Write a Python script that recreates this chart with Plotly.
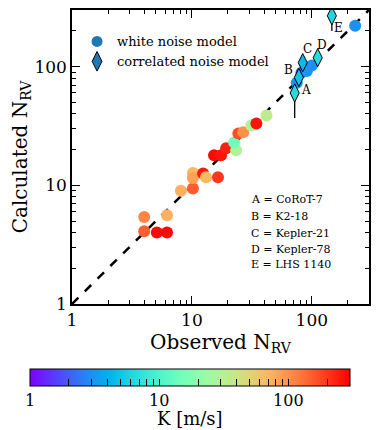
import numpy as np
import plotly.graph_objects as go

# white noise model: observed N_RV, calculated N_RV, K [m/s]
obs_white = [4.0, 4.0, 5.1, 6.2, 6.2, 8.1, 10.2, 10.2, 10.2, 12.4, 13.1, 16.5,
             15.3, 17.5, 19.3, 23.4, 22.5, 24.4, 26.8, 31.3, 34.5, 41.9,
             75, 82, 91, 100, 230]
calc_white = [5.4, 4.1, 4.0, 4.0, 5.6, 9.0, 9.4, 12.7, 11.5, 12.6, 11.7, 11.7,
              17.9, 17.9, 20.5, 19.7, 23.0, 27.3, 28.0, 31.9, 33.2, 38.7,
              73, 89, 92, 102, 221]
k_white = [110, 150, 280, 280, 75, 75, 150, 70, 85, 250, 70, 200,
           280, 260, 240, 30, 15, 170, 100, 30, 260, 35,
           3.0, 1.6, 3.2, 3.0, 3.0]

# correlated noise model
labels_corr = ["A", "B", "C", "D", "E"]
obs_corr = [72, 78, 84, 112, 147]
calc_corr = [60, 81, 108, 119, 268]
k_corr = [6.5, 5.0, 4.5, 6.5, 6.0]
err_up = [6, 5, 6, 6, 40]
err_down = [23, 5, 6, 6, 68]

star_names = ["A = CoRoT-7", "B = K2-18", "C = Kepler-21", "D = Kepler-78", "E = LHS 1140"]

# label offsets (px) for the letters next to the diamonds
lab_dx = [11, -10, 5, 4, 7]
lab_dy = [3, 7, 14, 13, -12]

kmax = 300


def rainbow(t):
    r = min(1, abs(2 * t - 0.5))
    g = np.sin(np.pi * t)
    b = np.cos(np.pi * t / 2)
    return "rgb(%d,%d,%d)" % (r * 255, g * 255, b * 255)


cscale = [[t, rainbow(t)] for t in np.linspace(0, 1, 21)]
cmax = np.log10(kmax)

minor_k = [2, 3, 4, 5, 6, 7, 8, 9, 20, 30, 40, 50, 60, 70, 80, 90, 200]
cb_vals = [0, 1, 2] + list(np.log10(minor_k))
cb_text = ["1", "10", "100"] + [""] * len(minor_k)

font = "DejaVu Serif"

fig = go.Figure()

# 1:1 line
fig.add_trace(go.Scatter(x=[1, kmax], y=[1, kmax], mode="lines",
                         line=dict(color="black", width=2.5, dash="dash"),
                         showlegend=False, hoverinfo="skip"))

fig.add_trace(go.Scatter(
    x=obs_white, y=calc_white, mode="markers", showlegend=False,
    marker=dict(size=12, color=np.log10(k_white), colorscale=cscale,
                cmin=0, cmax=cmax, showscale=True,
                colorbar=dict(orientation="h", x=-0.1414, xanchor="left",
                              y=-0.2195, yanchor="top", lenmode="pixels", len=320,
                              thickness=17, xpad=0, ypad=0,
                              outlinecolor="black", outlinewidth=1,
                              tickvals=cb_vals, ticktext=cb_text, tickangle=0,
                              ticks="inside", ticklen=7, tickcolor="black",
                              tickfont=dict(family=font, size=16, color="black")))))

fig.add_trace(go.Scatter(
    x=obs_corr, y=calc_corr, mode="markers", showlegend=False,
    error_y=dict(type="data", array=err_up, arrayminus=err_down,
                 color="black", thickness=1.3, width=0),
    marker=dict(symbol="diamond-tall", size=13, color=np.log10(k_corr),
                colorscale=cscale, cmin=0, cmax=cmax,
                line=dict(color="black", width=1))))

# legend entries
fig.add_trace(go.Scatter(x=[None], y=[None], mode="markers", name="white noise model",
                         marker=dict(size=11, color="#1f77b4")))
fig.add_trace(go.Scatter(x=[None], y=[None], mode="markers", name="correlated noise model",
                         marker=dict(symbol="diamond-tall", size=14, color="#1f77b4",
                                     line=dict(color="black", width=1))))

for lab, xv, yv, dx, dy in zip(labels_corr, obs_corr, calc_corr, lab_dx, lab_dy):
    fig.add_annotation(x=np.log10(xv), y=np.log10(yv), text=lab, showarrow=False,
                       xshift=dx, yshift=dy,
                       font=dict(family=font, size=12, color="black"))

name_y = [0.354, 0.299, 0.241, 0.187, 0.133]
for txt, yp in zip(star_names, name_y):
    fig.add_annotation(x=0.596, y=yp, xref="paper", yref="paper", xanchor="left",
                       yanchor="middle", text=txt, showarrow=False,
                       font=dict(family=font, size=11, color="black"))

# colorbar title
fig.add_annotation(x=0.397, y=-0.39, xref="paper", yref="paper", text="K [m/s]",
                   showarrow=False, yanchor="middle",
                   font=dict(family=font, size=18, color="black"))

axis_common = dict(type="log", range=[0, cmax], showgrid=False, zeroline=False,
                   showline=True, linecolor="black", linewidth=1.5, mirror="ticks",
                   ticks="inside", ticklen=8, tickwidth=1.3, tickcolor="black",
                   tickvals=[1, 10, 100], ticktext=["1", "10", "100"],
                   tickfont=dict(family=font, size=17, color="black"),
                   minor=dict(ticks="inside", ticklen=4, tickcolor="black", tickwidth=1,
                              tickvals=[2, 3, 4, 5, 6, 7, 8, 9, 20, 30, 40, 50, 60, 70, 80, 90, 200, 300]))

# the page adds an 8px body margin, so the figure is drawn 8px smaller
fig.update_layout(
    width=372, height=422,
    margin=dict(l=64, r=11, t=2, b=126, autoexpand=False),
    plot_bgcolor="white", paper_bgcolor="white",
    xaxis=dict(axis_common, title=dict(text="Observed N<sub>RV</sub>", standoff=6,
                                       font=dict(family=font, size=20, color="black"))),
    yaxis=dict(axis_common, title=dict(text="Calculated N<sub>RV</sub>", standoff=12,
                                       font=dict(family=font, size=20, color="black"))),
    legend=dict(x=0.017, y=0.944, xanchor="left", yanchor="top", bgcolor="rgba(0,0,0,0)",
                font=dict(family=font, size=13, color="black"), itemwidth=30),
)

fig.write_html("out.html")
